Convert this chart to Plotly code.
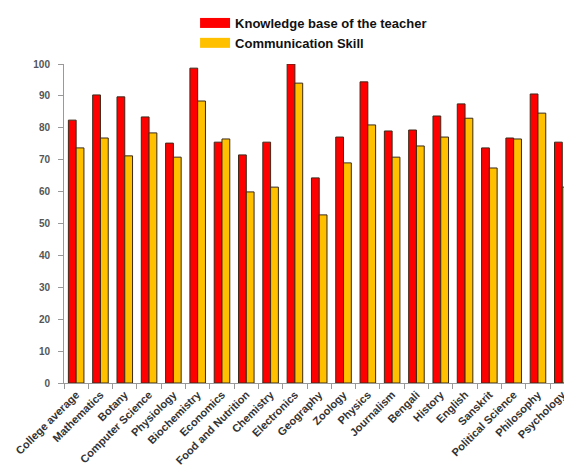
import plotly.graph_objects as go

categories = ["College average", "Mathematics", "Botany", "Computer Science", "Physiology",
              "Biochemistry", "Economics", "Food and Nutrition", "Chemistry", "Electronics",
              "Geography", "Zoology", "Physics", "Journalism", "Bengali", "History", "English",
              "Sanskrit", "Political Science", "Philosophy", "Psychology"]
knowledge = [82.4, 90.3, 89.7, 83.4, 75.2, 98.7, 75.5, 71.5, 75.5, 100.0,
             64.3, 77.1, 94.4, 79.0, 79.3, 83.7, 87.5, 73.7, 76.8, 90.6, 75.5]
communication = [73.7, 76.8, 71.2, 78.4, 70.8, 88.4, 76.5, 59.9, 61.4, 94.0,
                 52.7, 69.0, 80.9, 70.8, 74.3, 77.1, 83.0, 67.4, 76.5, 84.6, 61.4]
series_names = ["Knowledge base of the teacher", "Communication Skill"]
series_colors = ["#FF0000", "#FFC000"]
y_ticks = [0, 10, 20, 30, 40, 50, 60, 70, 80, 90, 100]

fig = go.Figure()
for vals, name, col in zip([knowledge, communication], series_names, series_colors):
    fig.add_trace(go.Bar(x=categories, y=vals, name=name, showlegend=False,
                         marker=dict(color=col, line=dict(color="#3a2a1a", width=1))))
# wide legend swatches
for name, col in zip(series_names, series_colors):
    fig.add_trace(go.Scatter(x=[None], y=[None], mode="lines", name=name,
                             line=dict(color=col, width=13)))

# the page body adds an 8px offset, so the figure is sized 8px smaller
fig.update_layout(
    width=564, height=467,
    margin=dict(l=56, r=0, t=56, b=92),
    paper_bgcolor="white", plot_bgcolor="white",
    barmode="group", bargap=0.36, bargroupgap=0.0,
    font=dict(family="Liberation Sans, Arial, sans-serif"),
    legend=dict(x=0.258, y=1.0, xanchor="left", yanchor="top", yref="container",
                font=dict(size=13, color="#111111", weight="bold"),
                bgcolor="rgba(0,0,0,0)", tracegroupgap=0, itemwidth=30),
    showlegend=True,
)
fig.update_xaxes(type="category", tickson="boundaries", ticks="outside", ticklen=5,
                 tickcolor="#999999", showline=True, linecolor="#999999", linewidth=1,
                 tickangle=-45, tickfont=dict(size=11, color="#333333", weight="bold"),
                 showgrid=False, range=[-0.5, 20.4], automargin=False)
fig.update_yaxes(range=[0, 100], tickvals=y_ticks, ticks="outside", ticklen=5,
                 tickcolor="#999999", showline=True, linecolor="#999999", linewidth=1,
                 tickfont=dict(size=10, color="#555555", weight="bold"), showgrid=False,
                 zeroline=False, automargin=False, ticklabelstandoff=6)

fig.write_html("out.html")
